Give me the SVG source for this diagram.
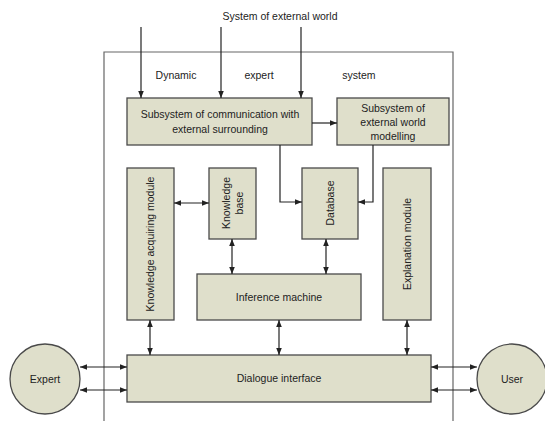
<svg xmlns="http://www.w3.org/2000/svg" width="545" height="421" viewBox="0 0 545 421">
<style>
.box{fill:#dfdfcb;stroke:#4a4a4a;stroke-width:1.3}
.t{font-family:"Liberation Sans",Arial,sans-serif;font-size:10.5px;fill:#222;text-anchor:middle}
.c{fill:none;stroke:#222;stroke-width:1.2}
.frame{fill:none;stroke:#666;stroke-width:1.2}
</style>
<defs>
<marker id="a" viewBox="0 0 10 10" refX="10" refY="5" markerWidth="7" markerHeight="7" orient="auto-start-reverse" markerUnits="userSpaceOnUse">
<path d="M0,1 L10,5 L0,9 z" fill="#222"/>
</marker>
</defs>
<rect width="545" height="421" fill="#fff"/>
<path class="frame" d="M104,421 V52 H453 V421"/>
<text class="t" x="280" y="20">System of external world</text>
<text class="t" x="176" y="79">Dynamic</text>
<text class="t" x="259" y="79">expert</text>
<text class="t" x="359" y="79">system</text>
<g id="comm"><rect class="box" x="127" y="98" width="185" height="47"/>
<text class="t" x="220" y="118">Subsystem of communication with</text>
<text class="t" x="220" y="133">external surrounding</text></g>
<g id="model"><rect class="box" x="337" y="98" width="112" height="47"/>
<text class="t" x="393" y="112">Subsystem of</text>
<text class="t" x="393" y="126">external world</text>
<text class="t" x="393" y="140">modelling</text></g>
<g id="kam"><rect class="box" x="127" y="168" width="47" height="152"/>
<text class="t" transform="translate(154,244) rotate(-90)">Knowledge acquiring module</text></g>
<g id="kb"><rect class="box" x="209" y="168" width="47" height="71"/>
<text class="t" transform="translate(230,203) rotate(-90)">Knowledge</text>
<text class="t" transform="translate(243,203) rotate(-90)">base</text></g>
<g id="db"><rect class="box" x="302" y="168" width="56" height="71"/>
<text class="t" transform="translate(334,203) rotate(-90)">Database</text></g>
<g id="em"><rect class="box" x="383" y="168" width="48" height="152"/>
<text class="t" transform="translate(411,244) rotate(-90)">Explanation module</text></g>
<g id="im"><rect class="box" x="197" y="274" width="164" height="46"/>
<text class="t" x="279" y="301">Inference machine</text></g>
<g id="di"><rect class="box" x="127" y="355" width="304" height="47"/>
<text class="t" x="279" y="382">Dialogue interface</text></g>
<g id="expert"><circle class="box" cx="45" cy="379" r="35"/>
<text class="t" x="45" y="383">Expert</text></g>
<g id="user"><circle class="box" cx="512" cy="379" r="35"/>
<text class="t" x="512" y="383">User</text></g>
<g id="connectors">
<path class="c" d="M141,27 V98" marker-end="url(#a)"/>
<path class="c" d="M221,27 V98" marker-end="url(#a)"/>
<path class="c" d="M301,27 V98" marker-end="url(#a)"/>
<path class="c" d="M312,123 H337" marker-end="url(#a)"/>
<path class="c" d="M280,145 V202 H302" marker-end="url(#a)"/>
<path class="c" d="M373,145 V202 H358" marker-end="url(#a)"/>
<path class="c" d="M174,203 H209" marker-start="url(#a)" marker-end="url(#a)"/>
<path class="c" d="M232,239 V274" marker-start="url(#a)" marker-end="url(#a)"/>
<path class="c" d="M326,239 V274" marker-start="url(#a)" marker-end="url(#a)"/>
<path class="c" d="M150,320 V355" marker-start="url(#a)" marker-end="url(#a)"/>
<path class="c" d="M279,320 V355" marker-start="url(#a)" marker-end="url(#a)"/>
<path class="c" d="M407,320 V355" marker-start="url(#a)" marker-end="url(#a)"/>
<path class="c" d="M80,367 H127" marker-start="url(#a)" marker-end="url(#a)"/>
<path class="c" d="M80,390 H127" marker-start="url(#a)" marker-end="url(#a)"/>
<path class="c" d="M431,367 H477" marker-start="url(#a)" marker-end="url(#a)"/>
<path class="c" d="M431,390 H477" marker-start="url(#a)" marker-end="url(#a)"/>
</g>
</svg>
